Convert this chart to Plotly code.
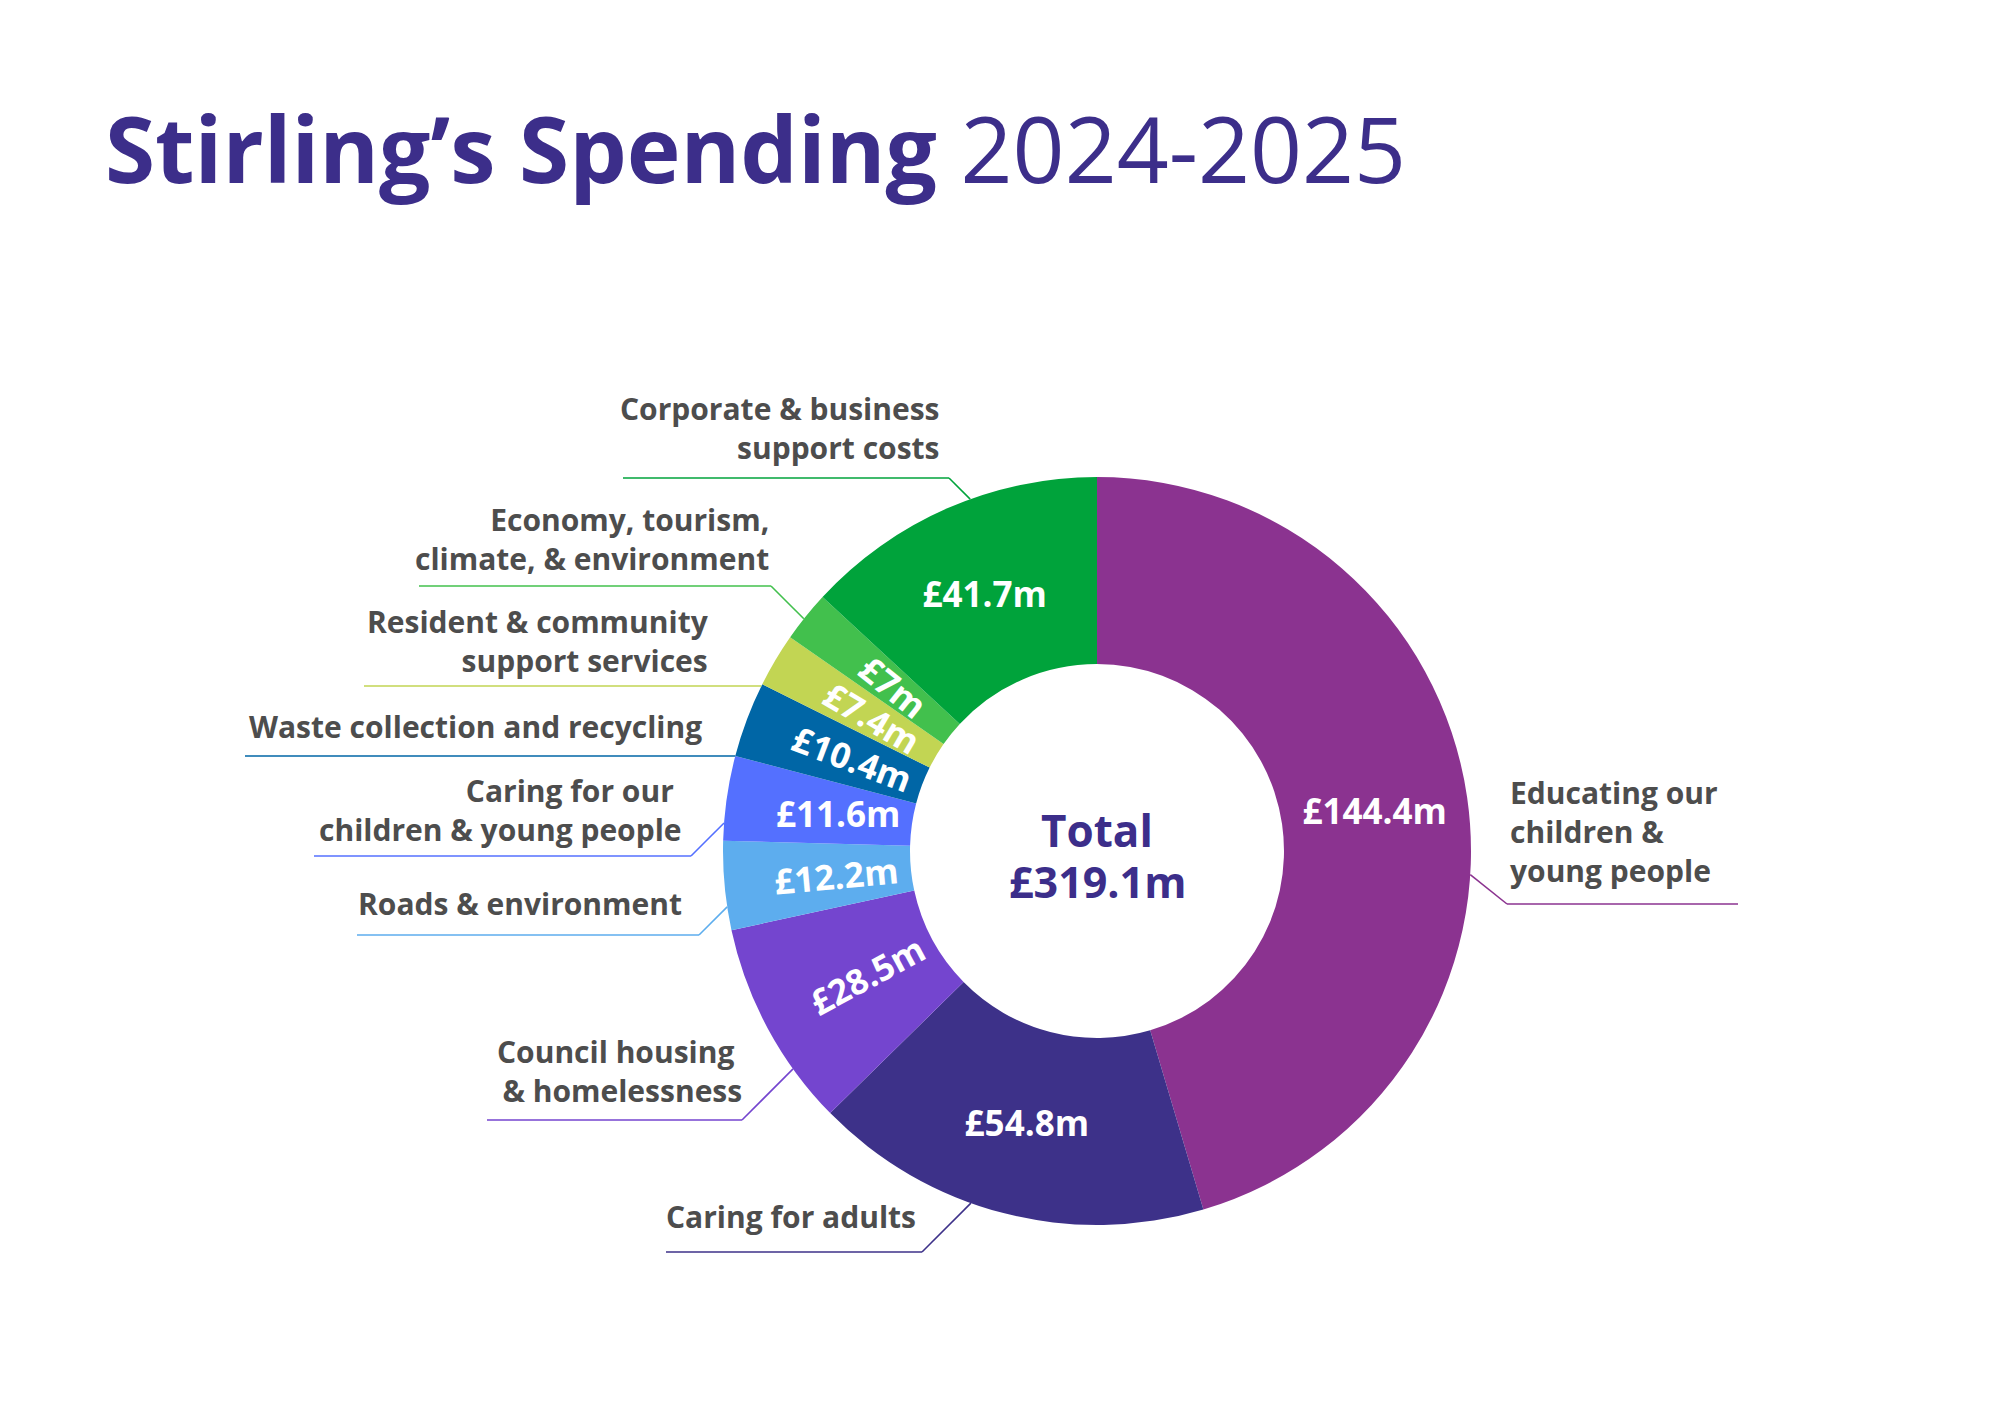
import math
import plotly.graph_objects as go

W, H = 2000, 1414

# ---- data ----
categories = [
    "Educating our children & young people",
    "Caring for adults",
    "Council housing & homelessness",
    "Roads & environment",
    "Caring for our children & young people",
    "Waste collection and recycling",
    "Resident & community support services",
    "Economy, tourism, climate, & environment",
    "Corporate & business support costs",
]
values = [144.4, 54.8, 28.5, 12.2, 11.6, 10.4, 7.4, 7.0, 41.7]
total = 319.1
label_lines = [
    ["Educating our", "children &", "young people"],
    ["Caring for adults"],
    ["Council housing ", "& homelessness"],
    ["Roads & environment"],
    ["Caring for our ", "children & young people"],
    ["Waste collection and recycling"],
    ["Resident & community", "support services"],
    ["Economy, tourism,", "climate, & environment"],
    ["Corporate & business", "support costs"],
]

# ---- style ----
colors = ["#8B3390", "#3D3189", "#7445CF", "#5DADEE", "#5470FF",
          "#0066A6", "#C2D553", "#42C04D", "#00A33B"]
# h = pie's own horizontal text, r = radial label, a = horizontal label
value_orient = ["h", "h", "r", "r", "a", "r", "r", "r", "h"]
FONT = "Open Sans"
INK = "#4D4D4D"
TITLE_C = "#3C2E8A"
LABEL_SIZE = 30
VALUE_SIZE = 35

# donut geometry in pixels
CX, CY, R = 1097, 851, 374
HOLE = 0.5

# label layout: text anchor x, text centre y, side, underline y, underline start/end x, leader direction
label_layout = [
    dict(tx=1508, ty=831, side="left", uy=904, u0=1738, u1=1507, d=(-1, -0.8)),
    dict(tx=918, ty=1216, side="right", uy=1252, u0=666, u1=922, d=(1, -1)),
    dict(tx=744, ty=1071, side="right", uy=1120, u0=487, u1=742, d=(1, -1)),
    dict(tx=684, ty=903, side="right", uy=935, u0=357, u1=699, d=(1, -1)),
    dict(tx=684, ty=810, side="right", uy=856, u0=314, u1=691, d=(1, -1)),
    dict(tx=704, ty=726, side="right", uy=756, u0=245, u1=245, d=(1, 0)),
    dict(tx=711, ty=641, side="right", uy=686, u0=364, u1=364, d=(1, 0)),
    dict(tx=771, ty=539, side="right", uy=586, u0=419, u1=771, d=(1, 1)),
    dict(tx=941, ty=428, side="right", uy=478, u0=623, u1=949, d=(1, 1)),
]


def fx(x):
    return x / W


def fy(y):
    return 1 - y / H


def hit_ring(x, y, d):
    dx, dy = d
    n = math.hypot(dx, dy)
    dx, dy = dx / n, dy / n
    ox, oy = x - CX, y - CY
    b = ox * dx + oy * dy
    c = ox * ox + oy * oy - R * R
    t = -b - math.sqrt(max(b * b - c, 0))
    return x + t * dx, y + t * dy


fig = go.Figure()

fig.add_trace(go.Pie(
    labels=categories,
    values=values,
    hole=HOLE,
    sort=False,
    direction="clockwise",
    rotation=0,
    marker=dict(colors=colors, line=dict(width=0)),
    text=[f"£{v:g}m" if o == "h" else "" for v, o in zip(values, value_orient)],
    textinfo="text",
    textposition="inside",
    insidetextorientation="horizontal",
    insidetextfont=dict(family=FONT, size=VALUE_SIZE, color="white", weight="bold"),
    hoverinfo="label+value",
    showlegend=False,
    domain=dict(x=[fx(CX - R), fx(CX + R)], y=[fy(CY + R), fy(CY - R)]),
))

annotations = []
shapes = []

# value labels for the narrow slices
tot = sum(values)
cum = 0
for v, o in zip(values, value_orient):
    mid = math.radians(360 * (cum + v / 2) / tot)
    cum += v
    if o == "h":
        continue
    rr = 0.70 * R
    x = CX + rr * math.sin(mid)
    y = CY - rr * math.cos(mid)
    ang = 0
    if o == "r":
        ang = math.degrees(math.atan2(math.cos(mid), -math.sin(mid)))
        if ang > 90:
            ang -= 180
        if ang < -90:
            ang += 180
    annotations.append(dict(
        x=fx(x), y=fy(y), xref="paper", yref="paper", showarrow=False,
        text=f"<b>£{v:g}m</b>", textangle=ang,
        font=dict(family=FONT, size=VALUE_SIZE, color="white"),
        xanchor="center", yanchor="middle"))

# category labels with leader lines
for lines, col, lay in zip(label_lines, colors, label_layout):
    annotations.append(dict(
        x=fx(lay["tx"]), y=fy(lay["ty"]), xref="paper", yref="paper",
        showarrow=False, text="<b>" + "<br>".join(lines) + "</b>",
        align=lay["side"], xanchor=lay["side"], yanchor="middle",
        font=dict(family=FONT, size=LABEL_SIZE, color=INK)))
    ex, ey = hit_ring(lay["u1"], lay["uy"], lay["d"])
    shapes.append(dict(type="line", xref="paper", yref="paper",
                       x0=fx(lay["u0"]), y0=fy(lay["uy"]),
                       x1=fx(lay["u1"]), y1=fy(lay["uy"]),
                       line=dict(color=col, width=1.6)))
    shapes.append(dict(type="line", xref="paper", yref="paper",
                       x0=fx(lay["u1"]), y0=fy(lay["uy"]),
                       x1=fx(ex), y1=fy(ey),
                       line=dict(color=col, width=1.6)))

# centre total
annotations.append(dict(x=fx(1097), y=fy(830), xref="paper", yref="paper",
                        showarrow=False, text="<b>Total</b>",
                        font=dict(family=FONT, size=44, color=TITLE_C)))
annotations.append(dict(x=fx(1097), y=fy(881), xref="paper", yref="paper",
                        showarrow=False, text=f"<b>£{total:g}m</b>",
                        font=dict(family=FONT, size=43, color=TITLE_C)))

# title
annotations.append(dict(x=fx(103), y=fy(148), xref="paper", yref="paper",
                        showarrow=False, xanchor="left", yanchor="middle",
                        text="<b>Stirling’s Spending</b> 2024-2025",
                        font=dict(family=FONT, size=91, color=TITLE_C)))

fig.update_layout(
    width=W, height=H,
    margin=dict(l=0, r=0, t=0, b=0),
    paper_bgcolor="white",
    plot_bgcolor="white",
    annotations=annotations,
    shapes=shapes,
)

fig.write_html("out.html", config={"displayModeBar": False},
               post_script="document.body.style.margin='0';")
